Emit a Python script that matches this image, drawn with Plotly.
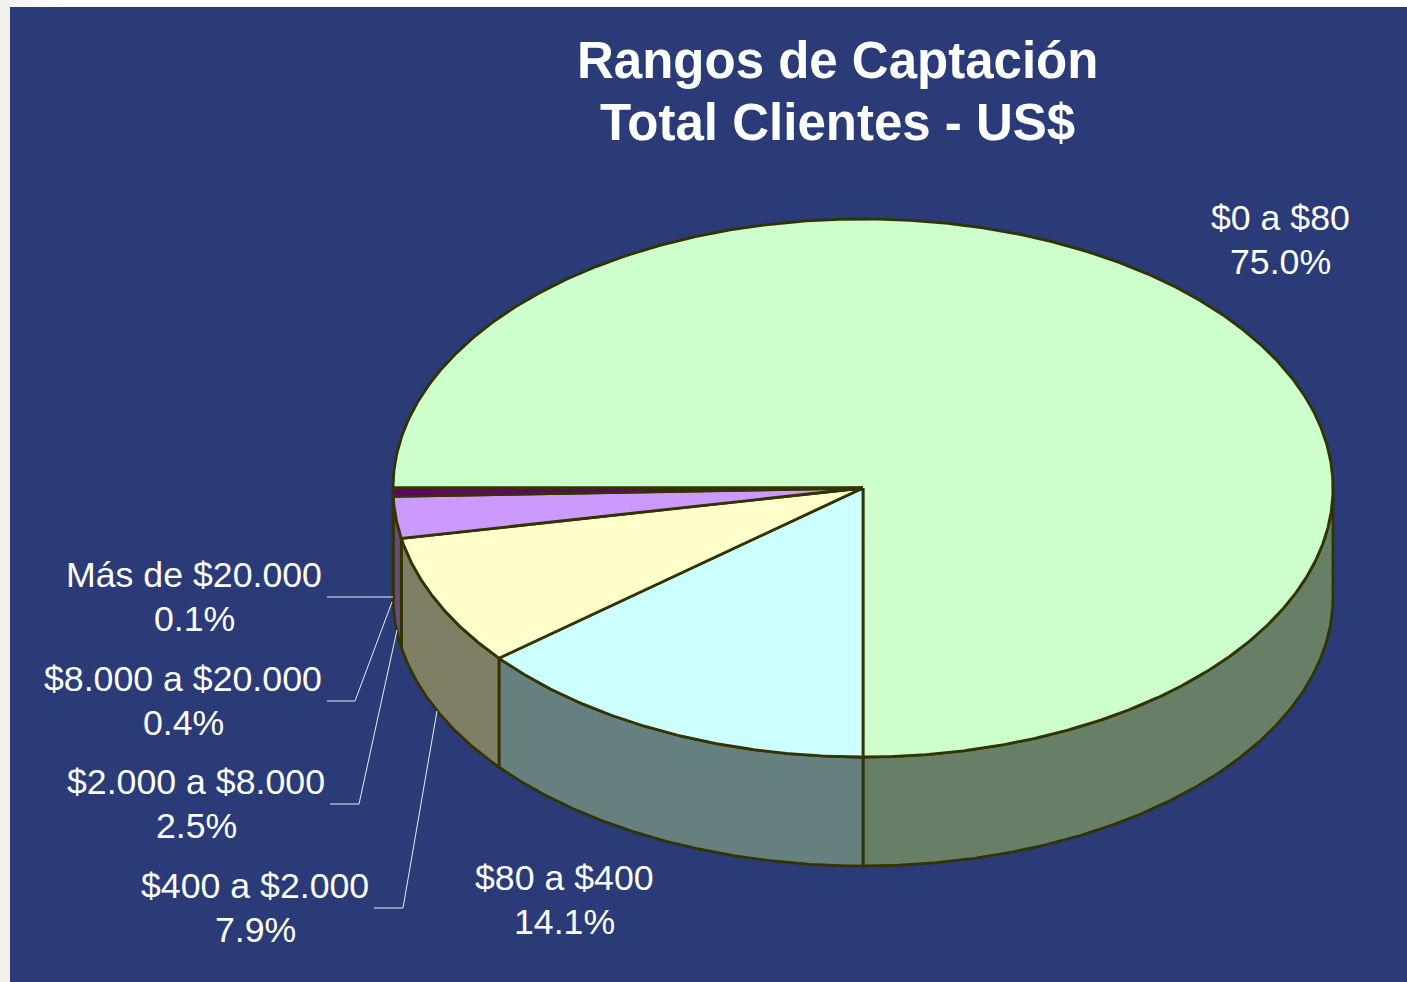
import numpy as np
import plotly.graph_objects as go

categories = ["$0 a $80", "$80 a $400", "$400 a $2.000", "$2.000 a $8.000", "$8.000 a $20.000", "Más de $20.000"]
values = [75.0, 14.1, 7.9, 2.5, 0.4, 0.1]
top_colors = ["#CCFFCC", "#CCFFFF", "#FFFFCC", "#CC99FF", "#660066", "#660066"]
title_lines = ["Rangos de Captación", "Total Clientes - US$"]

W, H = 1407, 982
LEFT, TOP = 10, 7
BG = "#2B3B78"
EDGE = "#333300"
CX, CY, RX, RY, DEPTH = 863, 488, 470, 269, 109
START = 270.0
LABEL_GAP = 43.5
LABEL_SIZE = 35.7

label_pos = [(1280, 240.2), (564, 900.2), (255, 908.2), (196, 804.2), (183, 701.2), (194, 597.2)]
leaders = [
    None,
    None,
    [(374, 908), (403, 908), (437, 711)],
    [(330, 804), (359, 804), (397, 630)],
    [(327, 701), (355, 701), (392, 602)],
    [(327, 597), (393, 597)],
]


def arc(a0, a1, dy=0.0):
    n = max(3, int(abs(a1 - a0) * 3))
    t = np.radians(np.linspace(a0, a1, n))
    return CX + RX * np.sin(t), CY - RY * np.cos(t) + dy


def dim(c):
    r, g, b = int(c[1:3], 16), int(c[3:5], 16), int(c[5:7], 16)
    return f"rgb({r // 2},{g // 2},{b // 2})"


fig = go.Figure()

# slice angular spans, derived from the values; neighbours of one colour share a face
total = sum(values)
spans = []
a = START
for v, col in zip(values, top_colors):
    b = a + v / total * 360
    if spans and spans[-1][2] == col:
        spans[-1] = (spans[-1][0], b, col)
    else:
        spans.append((a, b, col))
    a = b


def poly(x, y, fill):
    fig.add_trace(go.Scatter(
        x=np.r_[x, x[0]], y=np.r_[y, y[0]], mode="lines", fill="toself", fillcolor=fill,
        line=dict(color=EDGE, width=2.8), hoverinfo="skip", showlegend=False))


# side walls, back to front (only the lower half of the rim is visible)
for a0, a1, col in spans:
    lo, hi = a0, a1
    if hi > 360:
        lo = max(lo, 360 + 90)
    if hi <= lo:
        continue
    xt, yt = arc(lo, hi)
    xb, yb = arc(hi, lo, DEPTH)
    poly(np.r_[xt, xb], np.r_[yt, yb], dim(col))

# top faces
for a0, a1, col in spans:
    xt, yt = arc(a0, a1)
    poly(np.r_[CX, xt], np.r_[CY, yt], col)

# leader lines
for pts in leaders:
    if pts:
        fig.add_trace(go.Scatter(
            x=[p[0] for p in pts], y=[p[1] for p in pts], mode="lines",
            line=dict(color="rgba(255,255,255,0.9)", width=1), hoverinfo="skip", showlegend=False))


def text(x, y, s, size, bold=False):
    return dict(x=x, y=y, xref="x", yref="y", text=f"<b>{s}</b>" if bold else s, showarrow=False,
                xanchor="center", yanchor="middle", align="center",
                font=dict(family="Liberation Sans", size=size, color="white"))


annotations = []
for c, v, (px, py) in zip(categories, values, label_pos):
    annotations.append(text(px, py - LABEL_GAP / 2, c, LABEL_SIZE))
    annotations.append(text(px, py + LABEL_GAP / 2, f"{v:.1f}%", LABEL_SIZE))
annotations.append(text(837, 60, title_lines[0], 51, True))
annotations.append(text(837, 122, title_lines[1], 51, True))

# page edge: off-white left strip fading to white along the top
shapes = []
steps = ["#F5F3EF", "#F7F6F2", "#F9F8F5", "#FBFAF8", "#FDFCFB", "#FFFFFF"]
edges = [10, 20, 30, 40, 50, 60, W]
for i, s in enumerate(steps):
    shapes.append(dict(type="rect", xref="paper", yref="paper", layer="below", line_width=0, fillcolor=s,
                       x0=(edges[i] - LEFT) / (W - LEFT), x1=(edges[i + 1] - LEFT) / (W - LEFT),
                       y0=1, y1=1 + TOP / (H - TOP)))

fig.update_layout(
    width=W, height=H,
    margin=dict(l=LEFT, r=0, t=TOP, b=0),
    paper_bgcolor="#F3F1EC", plot_bgcolor=BG,
    xaxis=dict(range=[LEFT, W], visible=False, fixedrange=True),
    yaxis=dict(range=[H, TOP], visible=False, fixedrange=True),
    annotations=annotations, shapes=shapes, showlegend=False,
)
fig.write_html("out.html", config=dict(displayModeBar=False), post_script="document.body.style.margin='0';")
